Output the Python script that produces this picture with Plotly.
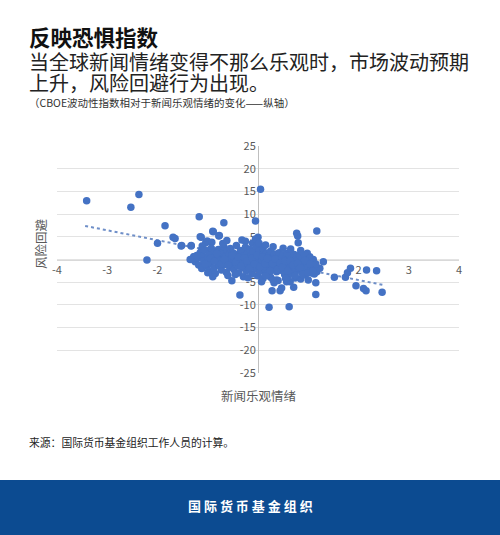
import plotly.graph_objects as go

# News optimism (x) vs change in CBOE VIX (y)
news_x = [
    -3.41, -2.53, -2.37, -2.21, -2.0, -1.85, -1.69, -1.65, -1.53, -1.33,
    -1.28, -1.17, -1.13, -1.12, -1.04, -0.9, -0.77, -0.68, -0.05, 0.05,
    0.0, 1.17, 0.77, 0.79, 0.8, 0.98, 1.1, 1.3, 1.52, 1.74,
    1.78, 1.84, 2.16, 2.36, 1.95, 2.1, 2.15, 2.47, 1.15, 1.15,
    -0.36, -0.52, -0.29, 0.22, 0.62, 0.28, 0.44, 0.47, -0.01, 0.07,
    0.32, 0.71, 0.64, -1.52, -1.33, -1.27, -1.15, -1.11, -1.01, -0.92,
    -0.89, -0.78, -0.32, -0.25, -0.11, 0.37, 0.57, 0.74, 0.94, 1.07,
    1.17, 1.23, 0.84, 1.03,
    -1.25, -1.2, -1.18, -1.15, -1.12, -1.1, -1.08, -1.05, -1.02, -1.0,
    -0.98, -0.97, -0.95, -0.93, -0.9, -0.88, -0.86, -0.85, -0.83, -0.8,
    -0.79, -0.77, -0.75, -0.73, -0.72, -0.7, -0.68, -0.66, -0.65, -0.63,
    -0.61, -0.6, -0.58, -0.56, -0.55, -0.53, -0.51, -0.5, -0.48, -0.46,
    -0.45, -0.43, -0.41, -0.4, -0.38, -0.36, -0.35, -0.33, -0.31, -0.3,
    -0.28, -0.26, -0.25, -0.23, -0.21, -0.2, -0.18, -0.16, -0.15, -0.13,
    -0.11, -0.1, -0.08, -0.06, -0.05, -0.03, -0.01, 0.0, 0.02, 0.03,
    0.05, 0.07, 0.08, 0.1, 0.12, 0.13, 0.15, 0.17, 0.18, 0.2,
    0.22, 0.23, 0.25, 0.27, 0.28, 0.3, 0.32, 0.33, 0.35, 0.37,
    0.38, 0.4, 0.42, 0.43, 0.45, 0.47, 0.48, 0.5, 0.52, 0.53,
    0.55, 0.57, 0.58, 0.6, 0.62, 0.63, 0.65, 0.67, 0.68, 0.7,
    0.72, 0.73, 0.75, 0.77, 0.78, 0.8, 0.82, 0.83, 0.85, 0.87,
    0.88, 0.9, 0.92, 0.93, 0.95, 0.97, 1.0, 1.02, 1.05, 1.08,
    1.1, 1.12, 1.15,
    -0.7, -0.62, -0.05, 0.02, 0.15, 0.3, 0.5, 0.65, 0.85,
    -0.9, -0.6, -0.2, 0.1, 0.25, 0.6, 0.85, 1.0, 0.4, -1.35,
    -1.05, -0.95, -0.87, -0.82, -0.74, -0.67, -0.59, -0.52, -0.44, -0.39,
    -0.34, -0.27, -0.22, -0.17, -0.12, -0.07, -0.02, 0.04, 0.09, 0.14,
    0.19, 0.24, 0.29, 0.34, 0.39, 0.44, 0.49, 0.54, 0.59, 0.64,
    0.69, 0.74, 0.79, 0.84, 0.89, 0.94, 0.99, 1.04, 1.09, 0.3,
    0.55, 0.15, -0.45, -1.0, -1.22,
]
vix_y = [
    12.95, 11.5, 14.3, -0.1, 3.6, 7.45, 4.9, 4.6, 3.0, 3.0,
    0.6, 9.4, 4.9, 2.2, 3.7, 6.2, 5.3, 8.1, 8.5, 15.5,
    4.9, 6.3, 5.8, 5.2, 3.7, 1.4, 0.0, -0.5, -3.9, -3.9,
    -2.9, -1.9, -2.3, -2.5, -5.8, -6.4, -6.9, -7.2, -7.7, -5.1,
    -7.8, -4.7, -3.8, -10.5, -10.4, -6.9, -6.9, -6.3, -3.6, -4.9,
    -5.1, -6.1, -4.9, 3.1, 3.1, 0.6, 5.0, 3.0, 4.1, 3.8,
    6.1, 5.2, 4.3, 4.0, 3.6, -4.5, -4.9, -4.1, -3.4, -3.0,
    -2.7, -1.9, 1.0, 0.6,
    -0.5, 0.3, -1.2, 1.5, -2.0, 0.8, -0.3, 2.1, -1.5, 0.5,
    -2.6, 1.2, -0.8, 2.5, 0.0, -1.9, 1.7, -3.1, 0.9, -0.6,
    2.2, -1.4, 0.4, -2.3, 1.4, -0.1, 2.8, -1.1, 0.7, -2.8,
    1.9, -0.4, 1.0, -1.7, 2.4, 0.2, -0.9, 1.5, -2.2, 0.6,
    -0.2, 3.1, -1.3, 1.1, -2.9, 0.3, 2.0, -0.7, 1.6, -1.8,
    0.8, -0.3, 2.7, -2.5, 1.3, -1.0, 0.1, 2.2, -1.6, 0.9,
    -3.2, 1.7, -0.5, 0.5, -2.0, 2.9, -1.2, 0.2, 1.9, -0.8,
    -2.6, 1.0, -0.1, 2.4, -1.5, 0.6, -2.3, 1.4, -0.4, -3.0,
    0.9, -1.1, 1.8, -0.2, -2.0, 0.4, -1.4, 1.2, -0.7, -2.7,
    0.7, -1.8, 1.5, -0.3, -1.2, 0.5, -2.4, 1.0, -0.9, -3.3,
    0.2, -1.6, 1.3, -0.5, -2.1, 0.8, -1.0, -3.0, 0.3, -1.7,
    1.1, -0.6, -2.5, 0.5, -1.3, -0.1, -2.0, 0.9, -0.9, -2.8,
    0.2, -1.5, -0.4, 1.0, -2.2, -0.8, -1.6, 0.3, -2.4, -0.6,
    -1.8, -3.2, -1.0,
    3.5, 4.2, 4.5, 3.6, 3.2, 2.8, 2.5, 2.3, 2.0,
    -3.8, -3.5, -4.0, -4.2, -3.9, -3.8, -4.3, -4.5, -4.6, 0.0,
    -1.0, 0.3, -0.4, 1.3, -1.0, 0.0, -1.2, 0.9, -0.6, 0.5,
    -1.5, 0.4, -0.4, -1.9, 0.3, -1.0, 0.9, -1.6, 0.6, -0.9,
    0.2, -2.6, -0.9, 0.1, -2.2, -0.8, -1.7, -0.4, -2.6, -0.3,
    -1.2, -3.5, -0.8, -1.8, -3.3, -0.2, -2.9, -1.0, -2.6, -4.5,
    -4.2, -3.6, -3.3, -2.9, 0.9,
]

# dotted linear trend, end points
trend_x = [-3.44, 2.49]
trend_y = [7.4, -5.6]

x_ticks = [-4, -3, -2, -1, 0, 1, 2, 3, 4]
x_labels = ["-4", "-3", "-2", "-1", "0", "1", "2", "3", "4"]
y_ticks = [-25, -20, -15, -10, -5, 0, 5, 10, 15, 20, 25]
y_labels = ["-25", "-20", "-15", "-10", "-5", "0", "5", "10", "15", "20", "25"]

font = "Noto Sans CJK SC, Noto Sans, sans-serif"
blue = "#4472C4"
x_dom = [57 / 500, 459 / 500]
y_dom = [1 - 373 / 535, 1 - 146 / 535]

fig = go.Figure()
fig.add_trace(go.Scatter(x=trend_x, y=trend_y, mode="lines",
                         line=dict(color="#6f8fc8", width=2, dash="dot"),
                         hoverinfo="skip"))
fig.add_trace(go.Scatter(x=news_x, y=vix_y, mode="markers",
                         marker=dict(color=blue, size=7.5, line=dict(width=0))))

fig.update_layout(
    autosize=True,
    margin=dict(l=0, r=0, t=0, b=0, autoexpand=False),
    paper_bgcolor="white", plot_bgcolor="white",
    showlegend=False,
    font=dict(family=font, color="#595959", size=11),
    xaxis=dict(range=[-4, 4], domain=x_dom, tickvals=x_ticks, ticktext=x_labels,
               anchor="free", position=sum(y_dom) / 2, automargin=False,
               showgrid=False, zeroline=False,
               showline=True, linecolor="#d9d9d9", linewidth=1,
               ticks="", layer="below traces",
               tickfont=dict(size=11, color="#595959")),
    yaxis=dict(range=[-25, 25], domain=y_dom, tickvals=y_ticks, ticktext=y_labels,
               anchor="free", position=sum(x_dom) / 2, automargin=False,
               showgrid=True, gridcolor="#e3e3e3", gridwidth=1,
               zeroline=False, showline=True, linecolor="#bfbfbf",
               linewidth=1, ticks="", layer="below traces",
               tickfont=dict(size=11, color="#595959")),
)

# footer band
fig.add_shape(type="rect", xref="paper", yref="paper",
              x0=0, x1=1, y0=0, y1=1 - 480 / 535,
              fillcolor="#0c4b91", line=dict(width=0), layer="below")

notes = [
    dict(text="<b>反映恐惧指数</b>", y=37, size=21.5, color="#111111"),
    dict(text="当全球新闻情绪变得不那么乐观时，市场波动预期", y=61, size=20, color="#222222"),
    dict(text="上升，风险回避行为出现。", y=83, size=20, color="#222222"),
    dict(text="（CBOE波动性指数相对于新闻乐观情绪的变化——纵轴）", y=103, size=10.5, color="#333333"),
    dict(text="来源：国际货币基金组织工作人员的计算。", y=442, size=10.8, color="#222222"),
]
for n in notes:
    fig.add_annotation(text=n["text"], xref="paper", yref="paper",
                       x=27 / 500, y=1 - n["y"] / 535, xanchor="left", yanchor="middle",
                       showarrow=False, font=dict(family=font, size=n["size"], color=n["color"]))

fig.add_annotation(text="新闻乐观情绪", xref="paper", yref="paper",
                   x=sum(x_dom) / 2, y=1 - 395 / 535, xanchor="center", yanchor="middle",
                   showarrow=False, font=dict(family=font, size=12.5, color="#595959"))
fig.add_annotation(text="风险回避", xref="paper", yref="paper",
                   x=41 / 500, y=1 - 244 / 535, xanchor="center", yanchor="middle",
                   textangle=-90, showarrow=False,
                   font=dict(family=font, size=12.5, color="#595959"))
fig.add_annotation(text="<b>国 际 货 币 基 金 组 织</b>", xref="paper", yref="paper",
                   x=0.5, y=1 - 505 / 535, xanchor="center", yanchor="middle",
                   showarrow=False, font=dict(family=font, size=13, color="white"))

fig.write_html("out.html",
               default_width="100vw", default_height="100vh",
               config={"displayModeBar": False, "responsive": True},
               post_script="document.body.style.margin='0';document.body.style.overflow='hidden';"
                           "window.dispatchEvent(new Event('resize'));")
